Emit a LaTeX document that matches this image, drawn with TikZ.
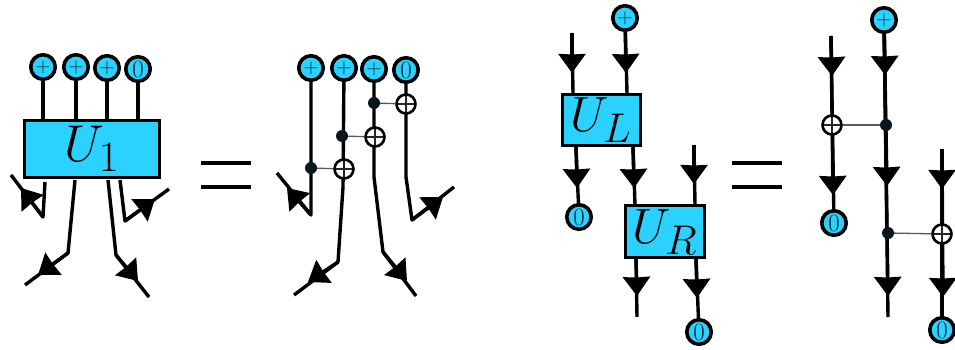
\documentclass[tikz,border=0pt]{standalone}
\usetikzlibrary{arrows.meta}
\definecolor{qcyan}{HTML}{2BD2FF}
\definecolor{qink}{HTML}{0A2A33}
\definecolor{qdot}{HTML}{06181D}
\tikzset{
  wire/.style={line width=3.4pt,black,line join=round},
  tipped/.style={wire,-{Stealth[length=19pt,width=27pt,inset=0.5pt]}},
  qubit/.style={circle,draw=black,line width=3.6pt,fill=qcyan,inner sep=0pt,minimum size=24.5pt,text=qink,font=\huge},
  zeroq/.style={qubit,font=\Huge},
  gatebox/.style={draw=black,line width=3.2pt,fill=qcyan,inner sep=0pt,anchor=north west},
  gatelabel/.style={font=\Huge,scale=2,inner sep=0pt},
  target/.style={circle,draw=black,line width=2.6pt,fill=white,inner sep=0pt,minimum size=19pt,
    path picture={\draw[line width=1.3pt,black!85] (path picture bounding box.north)--(path picture bounding box.south)
      (path picture bounding box.west)--(path picture bounding box.east);}},
  ctrl/.style={circle,fill=qdot,inner sep=0pt,minimum size=12pt},
  link/.style={line width=1.3pt,black!65},
  eqbar/.style={line width=4pt,black}
}
\begin{document}
\begin{tikzpicture}[x=1pt,y=-1pt]
\useasboundingbox (0,0) rectangle (955,350);

% ---------- U1 box ----------
\node[gatebox,minimum width=135pt,minimum height=57pt] (U1) at (23,119) {};
\node[gatelabel,scale=1.04] (U1t) at (92,149) {$U_1$};
\node[qubit] (a1) at (43,67) {$+$};
\node[qubit] (a2) at (76,67) {$+$};
\node[qubit] (a3) at (107,68) {$+$};
\node[zeroq] (a4) at (138,69) {$0$};
\draw[wire] (a1) -- (a1|-U1.north);
\draw[wire] (a2) -- (a2|-U1.north);
\draw[wire] (a3) -- (a3|-U1.north);
\draw[wire] (a4) -- (a4|-U1.north);

\coordinate (b1s) at (45,182); \coordinate (b1k) at (43,217); \coordinate (b1t) at (21,188); \coordinate (b1e) at (11,175);
\draw[wire] (b1s) -- (b1k) -- (b1e);
\draw[tipped] (b1k) -- (b1t);
\coordinate (b2s) at (75,180); \coordinate (b2k) at (68,253); \coordinate (b2t) at (38,275); \coordinate (b2e) at (25,285);
\draw[wire] (b2s) -- (b2k) -- (b2e);
\draw[tipped] (b2k) -- (b2t);
\coordinate (b3s) at (108,180); \coordinate (b3k) at (116,255); \coordinate (b3t) at (138,281); \coordinate (b3e) at (149,297);
\draw[wire] (b3s) -- (b3k) -- (b3e);
\draw[tipped] (b3k) -- (b3t);
\coordinate (b4s) at (120,180); \coordinate (b4k) at (125,221); \coordinate (b4t) at (155,199); \coordinate (b4e) at (169,189);
\draw[wire] (b4s) -- (b4k) -- (b4e);
\draw[tipped] (b4k) -- (b4t);

% ---------- first equals ----------
\coordinate (e1a) at (201,163); \coordinate (e1b) at (251,163);
\coordinate (e1c) at (201,187); \coordinate (e1d) at (251,187);
\draw[eqbar] (e1a) -- (e1b);
\draw[eqbar] (e1c) -- (e1d);

% ---------- U1 expanded ----------
\node[qubit] (c1) at (311,68) {$+$};
\node[qubit] (c2) at (344,68) {$+$};
\node[qubit] (c3) at (374,69) {$+$};
\node[zeroq] (c4) at (406,70) {$0$};
\coordinate (w1k) at (311,215); \coordinate (w1t) at (287,188); \coordinate (w1e) at (277,173);
\coordinate (w2m) at (343,187); \coordinate (w2k) at (338,262); \coordinate (w2t) at (308,282); \coordinate (w2e) at (294,295);
\coordinate (w3m) at (374,177); \coordinate (w3k) at (383,252); \coordinate (w3t) at (407,281); \coordinate (w3e) at (416,296);
\coordinate (w4m) at (406,177); \coordinate (w4k) at (412,220); \coordinate (w4t) at (443,197); \coordinate (w4e) at (454,187);
\draw[wire] (c1) -- (w1k) -- (w1e);
\draw[tipped] (w1k) -- (w1t);
\draw[wire] (c2) -- (w2m) -- (w2k) -- (w2e);
\draw[tipped] (w2k) -- (w2t);
\draw[wire] (c3) -- (w3m) -- (w3k) -- (w3e);
\draw[tipped] (w3k) -- (w3t);
\draw[wire] (c4) -- (w4m) -- (w4k) -- (w4e);
\draw[tipped] (w4k) -- (w4t);
\node[ctrl] (k1) at (374,103) {};
\node[target] (t1) at (406,104) {};
\node[ctrl] (k2) at (342,136) {};
\node[target] (t2) at (375,137) {};
\node[ctrl] (k3) at (311,168) {};
\node[target] (t3) at (344,169) {};
\draw[link] (k1) -- (t1);
\draw[link] (k2) -- (t2);
\draw[link] (k3) -- (t3);

% ---------- UL UR ----------
\node[gatebox,minimum width=78pt,minimum height=51pt] (UL) at (561,93) {};
\node[gatelabel] (ULt) at (601,120) {$U_L$};
\node[gatebox,minimum width=79pt,minimum height=52pt] (UR) at (624,204) {};
\node[gatelabel] (URt) at (665,232) {$U_R$};
\node[qubit] (d1) at (625,18) {$+$};
\node[zeroq] (d2) at (579,217) {$0$};
\node[zeroq] (d3) at (699,332) {$0$};
\coordinate (f1s) at (572,33); \coordinate (f1t) at (572,73); \coordinate (f1e) at (573,93);
\draw[tipped] (f1s) -- (f1t);
\draw[wire] (f1s) -- (f1e);
\coordinate (f2t) at (626,73); \coordinate (f2e) at (627,93);
\draw[tipped] (d1) -- (f2t);
\draw[wire] (d1) -- (f2e);
\coordinate (f3s) at (576,147); \coordinate (f3t) at (577,188);
\draw[tipped] (f3s) -- (f3t);
\draw[wire] (f3s) -- (d2);
\coordinate (f4s) at (633,147); \coordinate (f4t) at (634,188); \coordinate (f4e) at (635,205);
\draw[tipped] (f4s) -- (f4t);
\draw[wire] (f4s) -- (f4e);
\coordinate (f5s) at (694,145); \coordinate (f5t) at (694,184); \coordinate (f5e) at (695,205);
\draw[tipped] (f5s) -- (f5t);
\draw[wire] (f5s) -- (f5e);
\coordinate (f6s) at (636,258); \coordinate (f6t) at (637,296); \coordinate (f6e) at (637,317);
\draw[tipped] (f6s) -- (f6t);
\draw[wire] (f6s) -- (f6e);
\coordinate (f7s) at (696,258); \coordinate (f7t) at (697,298);
\draw[tipped] (f7s) -- (f7t);
\draw[wire] (f7s) -- (d3);

% ---------- second equals ----------
\coordinate (e2a) at (732,163); \coordinate (e2b) at (782,163);
\coordinate (e2c) at (732,187); \coordinate (e2d) at (782,187);
\draw[eqbar] (e2a) -- (e2b);
\draw[eqbar] (e2c) -- (e2d);

% ---------- expanded right ----------
\node[qubit] (g1) at (884,20) {$+$};
\node[zeroq] (g2) at (834,223) {$0$};
\node[zeroq] (g3) at (942,330) {$0$};
\coordinate (h1s) at (831,36); \coordinate (h1t) at (832,76); \coordinate (h1u) at (833,195);
\draw[tipped] (h1s) -- (h1t);
\draw[tipped] (h1s) -- (h1u);
\draw[wire] (h1s) -- (g2);
\coordinate (h2t) at (885,75); \coordinate (h2u) at (887,186); \coordinate (h2v) at (888,296); \coordinate (h2e) at (888,317);
\draw[tipped] (g1) -- (h2t);
\draw[tipped] (g1) -- (h2u);
\draw[tipped] (g1) -- (h2v);
\draw[wire] (g1) -- (h2e);
\coordinate (h3s) at (942,149); \coordinate (h3t) at (942,189); \coordinate (h3u) at (943,297);
\draw[tipped] (h3s) -- (h3t);
\draw[tipped] (h3s) -- (h3u);
\draw[wire] (h3s) -- (g3);
\node[target] (t4) at (832,125) {};
\node[ctrl] (k4) at (886,125) {};
\node[ctrl] (k5) at (888,233) {};
\node[target] (t5) at (942,234) {};
\draw[link] (t4) -- (k4);
\draw[link] (k5) -- (t5);
\end{tikzpicture}
\end{document}
